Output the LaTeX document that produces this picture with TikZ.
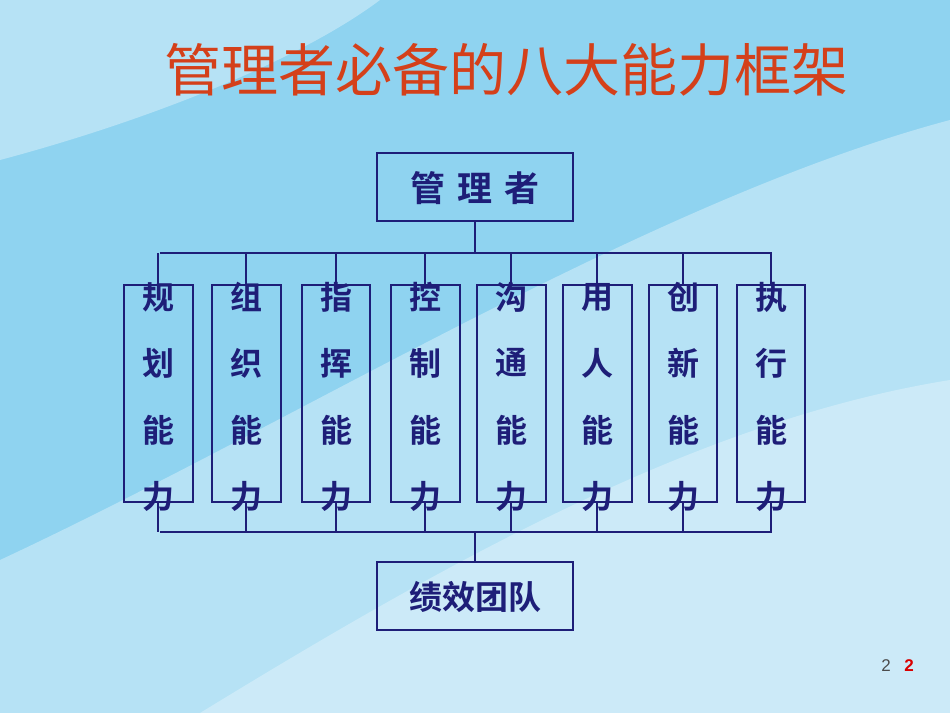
\documentclass[tikz,border=0pt]{standalone}
\usepackage{fontspec}
\newfontfamily\cjk{Noto Sans CJK SC}
\newfontfamily\cjkb{Noto Sans CJK SC Bold}
\setmainfont{Liberation Sans}
\definecolor{navy}{HTML}{1E1E78}
\definecolor{ttl}{HTML}{D4401A}
\definecolor{sky}{HTML}{8FD3F0}
\tikzset{bx/.style={draw=navy,line width=2pt},
 ln/.style={draw=navy,line width=2pt},
 ch/.style={text=navy,font=\cjkb\fontsize{32}{32}\selectfont,inner sep=0pt}}
\begin{document}
\begin{tikzpicture}[x=1pt,y=-1pt]
\useasboundingbox (0,0) rectangle (950,713);
\fill[sky] (0,0) rectangle (950,713);
\fill[white,opacity=0.35] (0,713) -- (0,560) .. controls (300,420) and (650,200) .. (950,120) -- (950,713) -- cycle;
\fill[white,opacity=0.3] (200,713) .. controls (450,560) and (700,420) .. (950,380) -- (950,713) -- cycle;
\fill[white,opacity=0.35] (380,0) .. controls (300,60) and (150,120) .. (0,160) -- (0,0) -- cycle;
\node[text=ttl,font=\cjk\fontsize{57}{57}\selectfont] (title) at (506,70) {管理者必备的八大能力框架};
\draw[bx] (377,153) rectangle (573,221);
\node[ch,font=\cjkb\fontsize{35}{35}\selectfont] (top) at (475,188) {管\hspace{0.35em}理\hspace{0.35em}者};
\draw[bx] (377,562) rectangle (573,630);
\node[ch,font=\cjkb\fontsize{33}{33}\selectfont] (bot) at (475,597) {绩效团队};
\coordinate (t) at (475,221); \coordinate (tj) at (475,253);
\coordinate (b) at (475,562); \coordinate (bj) at (475,532);
\draw[ln] (t) -- (tj); \draw[ln] (b) -- (bj);
\draw[ln] (160,253) -- (772,253);
\draw[ln] (160,532) -- (772,532);
\foreach \c/\w [count=\i] in {158/69,246/69,336/68,425/69,511/69,597/69,683/68,771/68}{
 \draw[bx] ({\c-\w/2},285) rectangle ({\c+\w/2},502);
 \coordinate (u\i) at (\c,285); \coordinate (d\i) at (\c,502);
 \draw[ln] (u\i) -- (\c,253); \draw[ln] (d\i) -- (\c,532);
}
\foreach \c/\a/\b [count=\i] in {158/规/划,246/组/织,336/指/挥,425/控/制,511/沟/通,597/用/人,683/创/新,771/执/行}{
 \node[ch] (p\i a) at (\c,297) {\a};
 \node[ch] (p\i b) at (\c,363) {\b};
 \node[ch] (p\i c) at (\c,430) {能};
 \node[ch] (p\i d) at (\c,496) {力};
}
\node[text=gray!60!black,font=\fontsize{17}{17}\selectfont] (pn1) at (886,666) {2};
\node[text=red!85!black,font=\bfseries\fontsize{17}{17}\selectfont] (pn2) at (909,666) {2};
\end{tikzpicture}
\end{document}
